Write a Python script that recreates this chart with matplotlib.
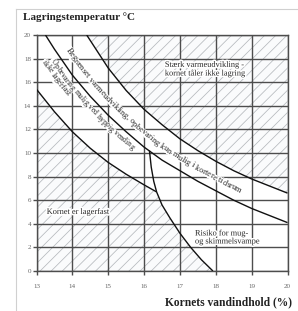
import numpy as np
import matplotlib
matplotlib.use('Agg')
import matplotlib.pyplot as plt
from matplotlib.lines import Line2D
from matplotlib.font_manager import FontProperties
from matplotlib.transforms import IdentityTransform
import matplotlib.patheffects as pe

# ---------------- data ----------------
x_ticks = [13, 14, 15, 16, 17, 18, 19, 20]
y_ticks = [0, 2, 4, 6, 8, 10, 12, 14, 16, 18, 20]

D_x = [14.4, 15.0, 15.5, 16.0, 16.5, 17.0, 17.5, 18.0, 18.5, 19.0, 19.5, 20.0]
D_y = [20.0, 17.2, 15.3, 13.7, 12.4, 11.2, 10.2, 9.3, 8.5, 7.8, 7.2, 6.6]
C_x = [13.25, 13.5, 14.0, 14.5, 15.0, 15.5, 16.0, 16.5, 17.0, 17.5, 18.0, 18.5, 19.0, 19.5, 20.0]
C_y = [20.0, 18.8, 16.6, 14.8, 13.2, 11.8, 10.5, 9.4, 8.5, 7.6, 6.8, 6.0, 5.3, 4.7, 4.1]
A_x = [13.0, 13.5, 14.0, 14.5, 15.0, 15.5, 16.0, 16.35]
A_y = [15.4, 13.5, 11.8, 10.4, 9.2, 8.2, 7.3, 6.7]
S_x = [16.15, 16.2, 16.27, 16.35, 16.5, 16.72, 17.0, 17.3, 17.6, 17.92]
S_y = [10.2, 8.8, 7.6, 6.7, 5.6, 4.5, 3.2, 2.0, 0.95, 0.0]

title = "Lagringstemperatur °C"
xlabel = "Kornets vandindhold (%)"
label_hot = "Stærk varmeudvikling -\nkornet tåler ikke lagring"
label_safe = "Kornet er lagerfast"
label_mold = "Risiko for mug-\nog skimmelsvampe"
label_limited = "Begrænset varmeudvikling, opbevaring kun mulig i kortere tidsrum"
label_turn1 = "Opbevaring mulig ved hyppig vending"
label_turn2 = "ikke lagerfast"

# ---------------- figure ----------------
DPI = 100
SC = DPI / 100.0
plt.rcParams['font.family'] = ['Liberation Serif', 'DejaVu Serif']
plt.rcParams['hatch.linewidth'] = 0.55
W, H = 298, 311
fig = plt.figure(figsize=(W / 100, H / 100), dpi=DPI)
fig.patch.set_facecolor('white')
ax = fig.add_axes([36.5 / W, 1 - 271 / H, 251 / W, 236 / H])
ax.set_xlim(13, 20)
ax.set_ylim(0, 20)

hatch_col = '#b5b9bd'
ax.fill_between(D_x, D_y, 20, facecolor='#fafbfc', edgecolor=hatch_col,
                hatch='///', linewidth=0, zorder=1)
poly_x = np.concatenate([[13.0], A_x, S_x[4:]])
poly_y = np.concatenate([[0.0], A_y, S_y[4:]])
ax.fill(poly_x, poly_y, facecolor='#fafbfc', edgecolor=hatch_col,
        hatch='///', linewidth=0, zorder=1)

ax.set_xticks(x_ticks)
ax.set_yticks(y_ticks)
ax.grid(True, color='#4d4d4d', lw=1.0)
ax.set_axisbelow(False)
for sp in ax.spines.values():
    sp.set_color('#4d4d4d')
    sp.set_linewidth(1.0)
ax.tick_params(direction='out', length=3, width=1.0, color='#4d4d4d',
               labelsize=5, labelcolor='#666666')
ax.tick_params(axis='x', pad=6)
ax.tick_params(axis='y', pad=1)

for xs, ys in [(D_x, D_y), (C_x, C_y), (A_x, A_y), (S_x, S_y)]:
    ax.plot(xs, ys, color='#111111', lw=1.0, zorder=3, solid_capstyle='butt',
            solid_joinstyle='round')

stroke = [pe.withStroke(linewidth=2.2, foreground='white')]
txtcol = '#262626'
ax.text(16.58, 17.1, label_hot, ha='left', va='center', fontsize=6.0,
        color=txtcol, linespacing=1.0, zorder=5, path_effects=stroke)
ax.text(14.17, 5.0, label_safe, ha='center', va='center', fontsize=6.0,
        color=txtcol, zorder=5, path_effects=stroke)
ax.text(17.42, 2.84, label_mold, ha='left', va='center', fontsize=6.0,
        color=txtcol, linespacing=1.0, zorder=5, path_effects=stroke)

fig.text(23 / W, 1 - 17 / H, title, ha='left', va='center', fontsize=8.0,
         fontweight='bold', color='#222222')
fig.text(292 / W, 1 - 302 / H, xlabel, ha='right', va='center', fontsize=8.3,
         fontweight='bold', color='#222222')

fig.add_artist(Line2D([16 / W, 16 / W], [0, 1 - 9 / H], color='#d0d0d0', lw=0.8))
fig.add_artist(Line2D([16 / W, 1], [1 - 9 / H, 1 - 9 / H], color='#d0d0d0', lw=0.8))

renderer = fig.canvas.get_renderer()


def curved_text(text, gx, gy, offset, start_img, fontsize):
    offset = offset * SC
    pts = ax.transData.transform(np.column_stack([gx, gy]))
    seg = np.hypot(np.diff(pts[:, 0]), np.diff(pts[:, 1]))
    s = np.concatenate([[0], np.cumsum(seg)])
    ss = np.linspace(0, s[-1], 3000)
    px = np.interp(ss, s, pts[:, 0])
    py = np.interp(ss, s, pts[:, 1])
    k = 151
    ker = np.ones(k) / k
    pxs = np.convolve(np.pad(px, k // 2, mode='reflect', reflect_type='odd'), ker, mode='valid')
    pys = np.convolve(np.pad(py, k // 2, mode='reflect', reflect_type='odd'), ker, mode='valid')
    tx = np.gradient(pxs)
    ty = np.gradient(pys)
    nn = np.hypot(tx, ty)
    tx /= nn
    ty /= nn
    ox = pxs - ty * offset
    oy = pys + tx * offset
    s2 = np.concatenate([[0], np.cumsum(np.hypot(np.diff(ox), np.diff(oy)))])
    ang = np.degrees(np.arctan2(np.gradient(oy), np.gradient(ox)))
    sx, sy = start_img[0] * SC, (H - start_img[1]) * SC
    i0 = np.argmin(np.hypot(ox - sx, oy - sy))
    s0 = s2[i0]
    prop = FontProperties(family=['Liberation Serif', 'DejaVu Serif'], size=fontsize)
    wl = renderer.get_text_width_height_descent('l', prop, ismath=False)[0]

    def w(t):
        if not t:
            return 0.0
        return renderer.get_text_width_height_descent(t + 'l', prop, ismath=False)[0] - wl

    placed = []
    for i, ch in enumerate(text):
        if ch == ' ':
            continue
        c = s0 + (w(text[:i]) + w(text[:i + 1])) / 2
        placed.append((ch, np.interp(c, s2, ox), np.interp(c, s2, oy), np.interp(c, s2, ang)))
    for ch, x, y, a in placed:
        fig.text(x, y, ch, transform=IdentityTransform(), ha='center', va='baseline',
                 rotation=a, rotation_mode='anchor', fontproperties=prop,
                 color='white', zorder=5.5,
                 path_effects=[pe.withStroke(linewidth=2.0, foreground='white')])
    for ch, x, y, a in placed:
        fig.text(x, y, ch, transform=IdentityTransform(), ha='center', va='baseline',
                 rotation=a, rotation_mode='anchor', fontproperties=prop,
                 color=txtcol, zorder=6)


curved_text(label_limited, C_x, C_y, 9, (75, 43), 6.0)
curved_text(label_turn1, C_x, C_y, -10, (50, 61), 5.6)
curved_text(label_turn2, C_x, C_y, -17.5, (39, 64), 5.6)

fig.savefig('out.png', dpi=DPI, facecolor='white')
